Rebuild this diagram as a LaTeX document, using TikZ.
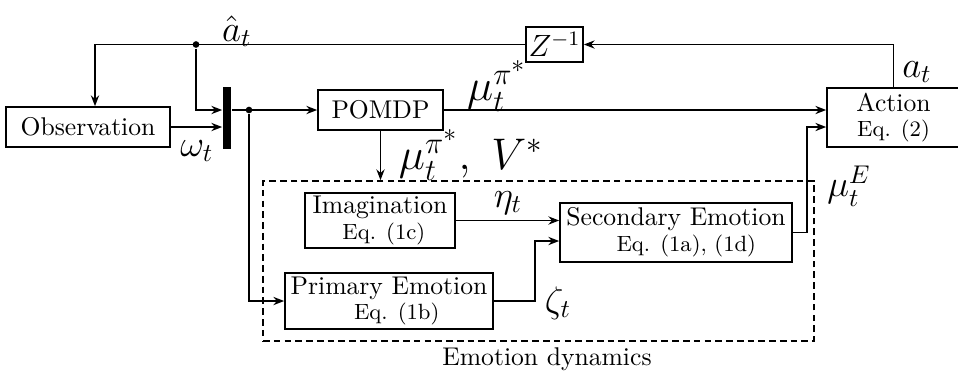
\documentclass[tikz,border=0pt]{standalone}
\usetikzlibrary{arrows.meta}
\newcommand{\upx}{0.39pt}
\newcommand{\eqf}{\fontsize{8.6}{10}\selectfont}
\begin{document}
\begin{tikzpicture}[x=0.39pt,y=-0.39pt, line width=0.65pt,
  >={Stealth[length=4.2pt,width=3.2pt]},
  bx/.style 2 args={draw, minimum width=#1*\upx, minimum height=#2*\upx, inner sep=0pt, align=center, font=\fontsize{10}{11}\selectfont},
  lbl/.style={inner sep=0pt, font=\Large},
  biglbl/.style={inner sep=0pt, font=\LARGE},
  jdot/.style={circle, fill, inner sep=0pt, minimum size=2.6pt}]
\useasboundingbox (0,0) rectangle (958,372);

\node[bx={164}{40}] (obs) at (88,127) {Observation};
\node[bx={125}{40}] (pomdp) at (380.5,110) {POMDP};
\node[bx={57}{35}, font=\large] (z) at (554.5,44.5) {$Z^{-1}$};
\node[bx={133}{59}] (act) at (893.5,117.5) {Action\\[-1pt]{\eqf Eq. (2)}};
\node[bx={150}{55}] (img) at (380,220.5) {Imagination\\[-1pt]{\eqf\hspace*{3pt}Eq. (1c)}};
\node[bx={208}{56}] (pri) at (389,301) {Primary Emotion\\[-1pt]{\eqf\hspace*{6pt}Eq. (1b)}};
\node[bx={232}{59}] (sec) at (676,232.5) {Secondary Emotion\\[-1pt]{\eqf\hspace*{8pt}Eq. (1a), (1d)}};
\node[draw, dash pattern=on 2.6pt off 1.6pt, minimum width=551*\upx, minimum height=160*\upx, inner sep=0pt] (emo) at (538.5,261) {};
\node[fill, inner sep=0pt, minimum width=8*\upx, minimum height=62*\upx] (bar) at (227,118) {};

\node[jdot] (d1) at (196,44.5) {};
\node[jdot] (d2) at (249,110) {};

\coordinate (tl) at (95,44.5);
\draw[->] (z.west) -- (tl) -- (tl |- obs.north);
\draw[->] (d1) |- (bar.west |- d2);
\draw[->] (obs.east) -- (obs.east -| bar.west);
\draw[->] (bar.east |- d2) -- (pomdp.west);
\draw[->] (d2) |- (pri.west);
\draw[->] (pomdp.south) -- (pomdp.south |- emo.north);
\draw[->] (pomdp.east) -- (pomdp.east -| act.west);
\draw[->] (img.east) -- (img.east -| sec.west);
\coordinate (pk) at (535,241);
\draw[->] (pri.east) -| (pk) -- (pk -| sec.west);
\coordinate (sk) at (807,127);
\draw[->] (sec.east) -| (sk) -- (sk -| act.west);
\draw[->] (act.north) |- (z.east);

\node[lbl] (lah) at (237,31) {$\hat a_t$};
\node[lbl] (lom) at (197,151) {$\omega_t$};
\node[biglbl] (lmu1) at (497,86) {$\mu_t^{\pi^*}$};
\node[biglbl] (lmu2) at (471,155) {$\mu_t^{\pi^*},\ V^*$};
\node[lbl] (la) at (917,72) {$a_t$};
\node[lbl] (lme) at (849,186) {$\mu_t^E$};
\node[lbl] (leta) at (508,203) {$\eta_t$};
\node[lbl] (lze) at (558,303) {$\zeta_t$};
\node[inner sep=0pt] (ltitle) at (547,359) {Emotion dynamics};
\end{tikzpicture}
\end{document}
